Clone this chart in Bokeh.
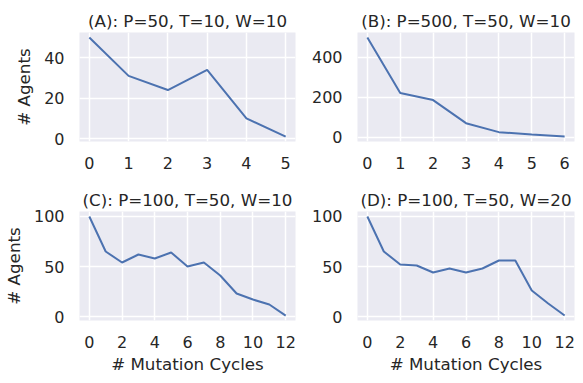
from bokeh.plotting import figure
from bokeh.layouts import gridplot
from bokeh.models import FixedTicker, DataRange1d
from bokeh.embed import file_html
from bokeh.resources import INLINE

# ---- data ----
titles = ["(A): P=50, T=10, W=10", "(B): P=500, T=50, W=10",
          "(C): P=100, T=50, W=10", "(D): P=100, T=50, W=20"]
a_x = [0, 1, 2, 3, 4, 5]
a_y = [50, 31, 24, 34, 10, 1]
b_x = [0, 1, 2, 3, 4, 5, 6]
b_y = [500, 221, 186, 70, 25, 13, 3]
c_x = list(range(13))
c_y = [100, 65, 54, 62, 58, 64, 50, 54, 41, 23, 17, 12, 1]
d_x = list(range(13))
d_y = [100, 65, 52, 51, 44, 48, 44, 48, 56, 56, 26, 13, 1]
a_xticks = [0, 1, 2, 3, 4, 5]
a_yticks = [0, 20, 40]
b_xticks = [0, 1, 2, 3, 4, 5, 6]
b_yticks = [0, 200, 400]
cd_xticks = [0, 2, 4, 6, 8, 10, 12]
cd_yticks = [0, 50, 100]
ylabel = "# Agents"
xlabel = "# Mutation Cycles"

BG = "#EAEAF2"
TXT = "#262626"
LINE = "#4C72B0"
FONT = "DejaVu Sans"


def make(title, xs, ys, xticks, yticks, width, height, bl, bt, bb, br,
         show_ylabel, show_xlabel):
    p = figure(width=width, height=height, output_backend="svg",
               toolbar_location=None, min_border_left=bl, min_border_top=bt,
               min_border_bottom=bb, min_border_right=br,
               x_range=DataRange1d(range_padding=0.1),
               y_range=DataRange1d(range_padding=0.1))
    p.background_fill_color = BG
    p.border_fill_color = "white"
    p.outline_line_color = None
    p.line(xs, ys, line_color=LINE, line_width=2)
    p.title.text = title
    p.title.align = "center"
    p.title.text_font = FONT
    p.title.text_font_style = "normal"
    p.title.text_font_size = "16.7px"
    p.title.text_color = TXT
    p.title.standoff = 4
    p.xaxis.ticker = FixedTicker(ticks=xticks)
    p.yaxis.ticker = FixedTicker(ticks=yticks)
    for ax in (p.xaxis[0], p.yaxis[0]):
        ax.axis_line_color = None
        ax.major_tick_line_color = None
        ax.minor_tick_line_color = None
        ax.major_tick_out = 0
        ax.minor_tick_out = 0
        ax.major_label_text_font = FONT
        ax.major_label_text_font_size = "16px"
        ax.major_label_text_color = TXT
        ax.axis_label_text_font = FONT
        ax.axis_label_text_font_size = "16.7px"
        ax.axis_label_text_font_style = "normal"
        ax.axis_label_text_color = TXT
    p.xaxis.major_label_standoff = 15
    p.yaxis.major_label_standoff = 15
    if show_ylabel:
        p.yaxis.axis_label = ylabel
        p.yaxis.axis_label_standoff = 7
    if show_xlabel:
        p.xaxis.axis_label = xlabel
        p.xaxis.axis_label_standoff = 3
    p.grid.grid_line_color = "white"
    p.grid.grid_line_width = 1.5
    p.xgrid.ticker = FixedTicker(ticks=xticks)
    p.ygrid.ticker = FixedTicker(ticks=yticks)
    return p


pa = make(titles[0], a_x, a_y, a_xticks, a_yticks, 308, 180, 77, 32, 39, 13, True, False)
pb = make(titles[1], b_x, b_y, b_xticks, b_yticks, 269, 180, 48, 32, 39, 3, False, False)
pc = make(titles[2], c_x, c_y, cd_xticks, cd_yticks, 308, 200, 77, 31, 60, 13, True, True)
pd = make(titles[3], d_x, d_y, cd_xticks, cd_yticks, 269, 200, 48, 31, 60, 3, False, True)

grid = gridplot([[pa, pb], [pc, pd]], toolbar_location=None)

open("out.html", "w").write(file_html(grid, INLINE))
